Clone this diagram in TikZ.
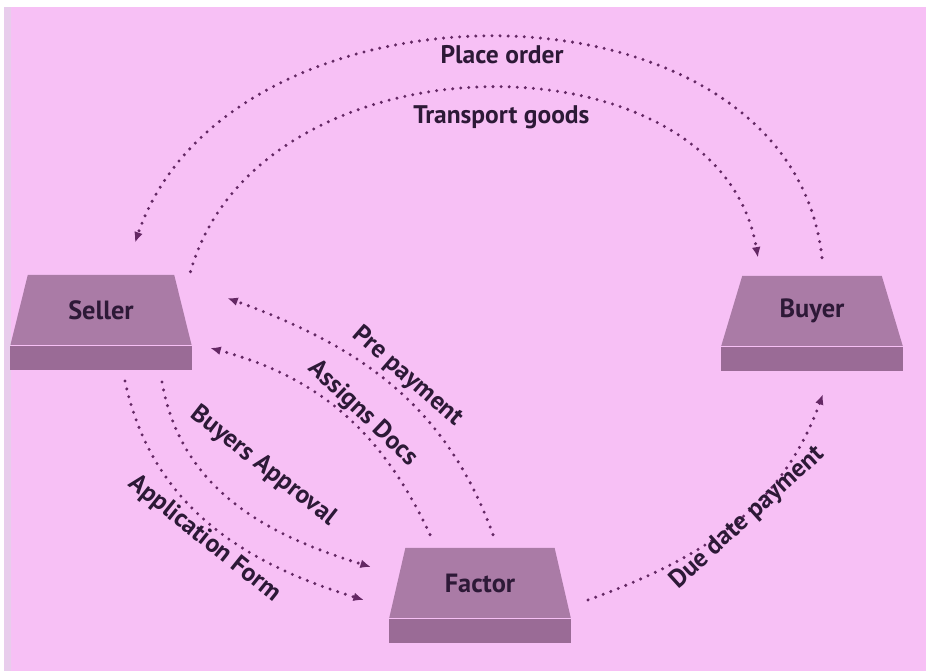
\documentclass[tikz,border=0pt]{standalone}
\usepackage{fontspec}
\setmainfont{PT Sans}
\usepackage{xcolor}
\usepackage{tikz}
\usetikzlibrary{arrows.meta,positioning,shapes}

\definecolor{bgpink}{RGB}{247,192,245}
\definecolor{edgestrip}{RGB}{232,205,236}
\definecolor{boxtop}{RGB}{170,123,166}
\definecolor{boxbase}{RGB}{154,107,150}
\definecolor{flowcol}{RGB}{100,40,100}
\definecolor{ink}{RGB}{45,25,55}

\begin{document}
\begin{tikzpicture}[x=0.02cm,y=0.02cm,>={Latex[length=6pt,width=5pt]},
    box/.style={trapezium, trapezium angle=68, trapezium stretches=true, minimum width=3.64cm, minimum height=1.4cm, inner sep=0pt, fill=boxtop, text=ink, font=\bfseries\fontsize{15}{17}\selectfont},
    base/.style={rectangle, minimum width=3.64cm, minimum height=0.48cm, inner sep=0pt, fill=boxbase},
    flow/.style={->, draw=flowcol, line width=1.9pt, line cap=round, dash pattern=on 0pt off 4.6pt},
    lbl/.style={text=ink, font=\bfseries\fontsize{14.5}{16}\selectfont, inner sep=1pt}]
                        \useasboundingbox (0,0) rectangle (926,671);
                        % background
                        \fill[white] (0,0) rectangle (926,671);
                        \fill[edgestrip] (4,0) rectangle (11,664);
                        \fill[bgpink] (11,0) rectangle (926,664);
                        % parties
                        \node[box] (seller) at (101,361) {Seller};
                        \node[base, below=0pt of seller] (sellerbase) {};
                        \node[box] (buyer) at (812,360) {Buyer};
                        \node[base, below=0pt of buyer] (buyerbase) {};
                        \node[box] (factor) at (480,88) {Factor};
                        \node[base, below=0pt of factor] (factorbase) {};
                        % flows
                        \draw[flow] ([shift={(10,18)}]buyer.north) .. controls (790,705) and (230,705) .. ([shift={(34,32)}]seller.north) node[pos=0.5, lbl, below=3pt] {Place order};
                        \draw[flow] ([shift={(16,3)}]seller.top right corner) .. controls (260,642) and (720,642) .. ([shift={(16,18)}]buyer.top left corner) node[pos=0.52, lbl, below=8pt] {Transport goods};
                        \draw[flow] ([shift={(13,13)}]factor.north) to[out=110,in=-20] node[pos=0.48, sloped, lbl, above=1pt] {Pre payment} ([shift={(44,12)}]seller.east);
                        \draw[flow] ([shift={(-50,13)}]factor.north) to[out=115,in=-15] node[pos=0.45, sloped, lbl, above=-1pt] {Assigns Docs} ([shift={(27,-38)}]seller.east);
                        \draw[flow] ([shift={(61,-12)}]sellerbase.south) to[out=-80,in=163] node[pos=0.5, sloped, lbl, above=18pt] {Buyers Approval} ([shift={(-26,16)}]factor.west);
                        \draw[flow] ([shift={(24,-11)}]sellerbase.south) to[out=-78,in=163] node[pos=0.52, sloped, lbl, below=0pt] {Application Form} ([shift={(-33,-17)}]factor.west);
                        \draw[flow] ([shift={(25,-17)}]factor.east) to[out=20,in=-110] node[pos=0.55, sloped, lbl, below=-6pt] {Due date payment} ([shift={(11,-23)}]buyerbase.south);
\end{tikzpicture}
\end{document}
